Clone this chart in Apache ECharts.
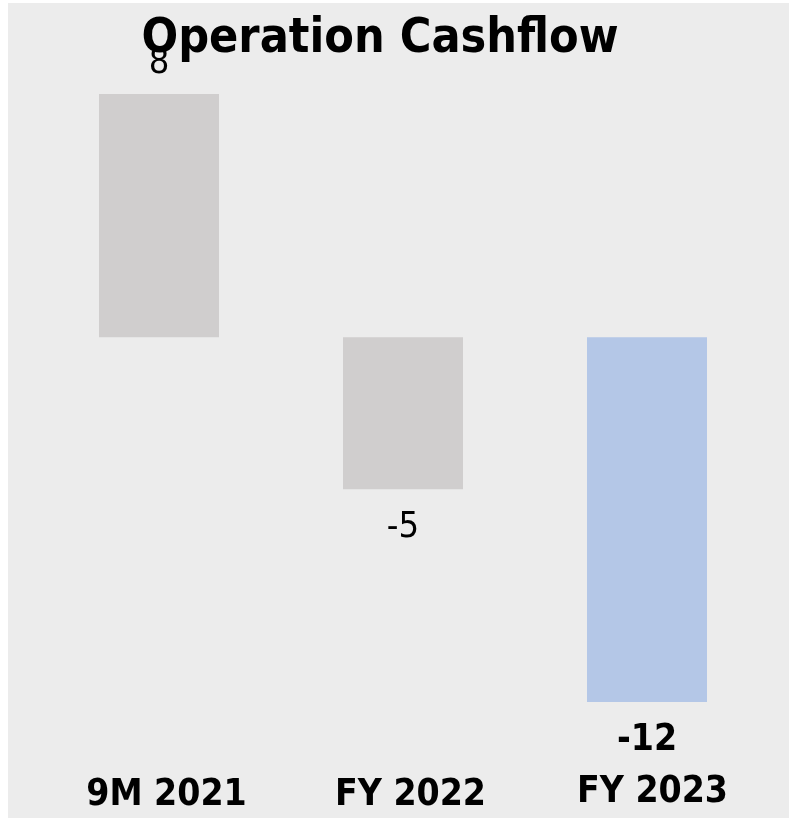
<!DOCTYPE html>
<html>
<head>
<meta charset="utf-8">
<script src="https://cdn.jsdelivr.net/npm/echarts@6/dist/echarts.min.js"></script>
<style>
  html, body { margin: 0; padding: 0; background: #ffffff; }
  #chart { position: absolute; left: 8px; top: 3px; width: 781px; height: 815px; }
</style>
</head>
<body>
<div id="chart"></div>
<script>
// Operating cash flow by period
const categories = ['9M 2021', 'FY 2022', 'FY 2023'];
const values = [8, -5, -12];
const highlightIndex = 2; // latest year shown in blue

const FONT = '"DejaVu Sans Condensed", "DejaVu Sans", sans-serif';
const GRAY = '#d0cece';
const BLUE = '#b4c7e7';

const chart = echarts.init(document.getElementById('chart'));

const seriesData = values.map((v, i) => {
  const isHi = i === highlightIndex;
  return {
    value: v,
    itemStyle: { color: isHi ? BLUE : GRAY },
    label: {
      show: true,
      position: v >= 0 ? 'top' : 'bottom',
      distance: v >= 0 ? 12 : 20,
      fontFamily: FONT,
      fontSize: isHi ? 37 : 36,
      fontWeight: isHi ? 'bold' : 'normal',
      color: '#000000'
    }
  };
});

const labelText = {
  fontFamily: FONT,
  fontSize: 37,
  fontWeight: 'bold',
  color: '#000000'
};

chart.setOption({
  backgroundColor: '#ececec',
  animation: false,
  title: {
    text: 'Operation Cashflow',
    left: 367,
    top: 8,
    textAlign: 'center',
    z: 10,
    textStyle: {
      fontFamily: FONT,
      fontSize: 48,
      fontWeight: 'bold',
      color: '#000000'
    }
  },
  grid: { left: 29, right: 20, top: 91, bottom: 116, containLabel: false },
  xAxis: {
    type: 'category',
    data: categories,
    position: 'bottom',
    axisLine: { show: false },
    axisTick: { show: false },
    axisLabel: {
      margin: 72,
      formatter: (val, idx) => idx === highlightIndex ? '{hi|' + val + '}' : '{base|' + val + '}',
      rich: {
        base: Object.assign({ padding: [3, 0, 0, 15] }, labelText),
        hi: Object.assign({ padding: [0, 0, 0, 11] }, labelText)
      }
    }
  },
  yAxis: {
    type: 'value',
    min: -12,
    max: 8,
    show: false,
    splitLine: { show: false }
  },
  series: [{
    type: 'bar',
    data: seriesData,
    barWidth: 120,
    z: 1
  }]
});
</script>
</body>
</html>
